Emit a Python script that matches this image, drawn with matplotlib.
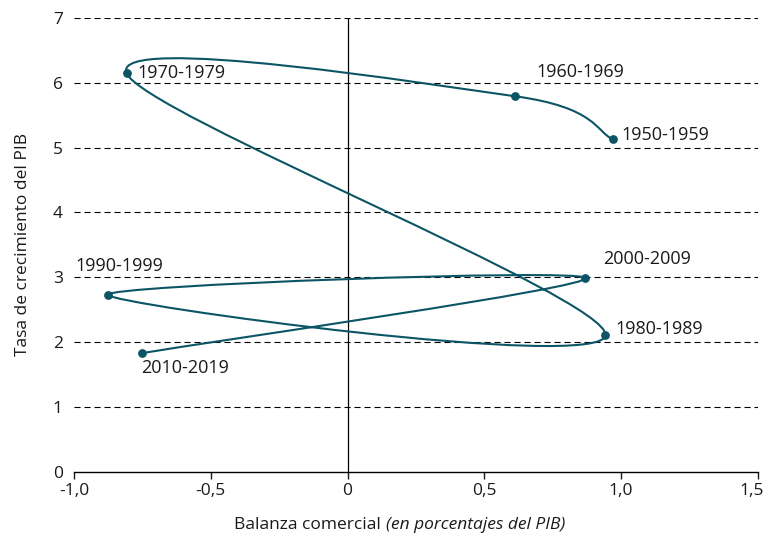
import matplotlib.pyplot as plt
import matplotlib.transforms as mtransforms
from matplotlib.path import Path
from matplotlib.patches import PathPatch
import numpy as np

plt.rcParams['font.family'] = ['Open Sans', 'DejaVu Sans']

# decades, trade balance (% of GDP) and GDP growth
decades = ['1950-1959', '1960-1969', '1970-1979', '1980-1989',
           '1990-1999', '2000-2009', '2010-2019']
balanza = [0.969, 0.614, -0.808, 0.943, -0.877, 0.870, -0.753]
crecimiento = [5.13, 5.79, 6.15, 2.11, 2.73, 2.99, 1.83]

xticks = [-1.0, -0.5, 0, 0.5, 1.0, 1.5]
xticklabels = ['-1,0', '-0,5', '0', '0,5', '1,0', '1,5']
yticks = [0, 1, 2, 3, 4, 5, 6, 7]

# label offsets in pixels (dx, dy)
offsets = [(9, 4), (21, 24), (11, 0), (10, 6), (-32, 29), (18, 19), (0, -15)]

col = '#0b5566'

fig = plt.figure(figsize=(7.67, 5.40), dpi=100)
ax = fig.add_axes([0.0965, 0.126, 0.8915, 0.841])

# smoothed line (excel style: bezier with neighbour tangents / 6)
pts = np.column_stack([balanza, crecimiento])
n = len(pts)
verts = [pts[0]]
codes = [Path.MOVETO]
for i in range(n - 1):
    p0 = pts[max(i - 1, 0)]
    p1 = pts[i]
    p2 = pts[i + 1]
    p3 = pts[min(i + 2, n - 1)]
    c1 = p1 + (p2 - p0) / 6
    c2 = p2 - (p3 - p1) / 6
    verts += [c1, c2, p2]
    codes += [Path.CURVE4] * 3
ax.add_patch(PathPatch(Path(verts, codes), facecolor='none', edgecolor=col, lw=1.5, zorder=3))
ax.scatter(balanza, crecimiento, s=28, color=col, zorder=4)

for d, x, y, (dx, dy) in zip(decades, balanza, crecimiento, offsets):
    ax.annotate(d, (x, y), xytext=(dx, dy), textcoords='offset pixels',
                ha='left', va='center', fontsize=13, color='#1a1a1a')

for yv in yticks[1:]:
    ax.axhline(yv, color='black', lw=0.8, ls=(0, (5.5, 3.5)), zorder=1)
ax.plot([0, 0], [0, 7], color='black', lw=0.9, zorder=2)

ax.set_xlim(-1.0, 1.5)
ax.set_ylim(0, 7)
ax.set_xticks(xticks)
ax.set_xticklabels(xticklabels, fontsize=12.5)
ax.set_yticks(yticks)
ax.set_yticklabels([str(v) for v in yticks], fontsize=12.5)
for s in ['top', 'right', 'left']:
    ax.spines[s].set_visible(False)
ax.spines['bottom'].set_linewidth(1.0)
ax.tick_params(axis='x', length=5, width=1.0, pad=3, colors='#1a1a1a')
ax.tick_params(axis='y', length=0, pad=8, colors='#1a1a1a')

# nudge the last x tick label so it stays inside the figure
last = ax.get_xticklabels()[-1]
last.set_transform(last.get_transform() + mtransforms.ScaledTranslation(-6 / 100, 0, fig.dpi_scale_trans))

ax.set_ylabel('Tasa de crecimiento del PIB', fontsize=12.5, color='#1a1a1a', labelpad=16)
fig.text(0.503, 0.028, 'Balanza comercial ', ha='right', va='center', fontsize=12.5, color='#1a1a1a')
fig.text(0.503, 0.028, '(en porcentajes del PIB)', ha='left', va='center', fontsize=12.5,
         style='italic', color='#1a1a1a')

fig.savefig('out.png', dpi=100)
